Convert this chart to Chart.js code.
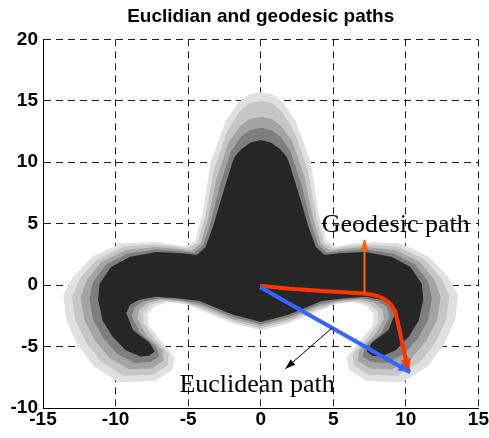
<!DOCTYPE html>
<html>
<head>
<meta charset="utf-8">
<script src="https://cdn.jsdelivr.net/npm/chart.js@4.4.0/dist/chart.umd.min.js"></script>
<style>
  body { margin: 0; background: #fff; }
</style>
</head>
<body>
<canvas id="pathsChart" width="489" height="438"></canvas>
<script>
const xTicks = [-15, -10, -5, 0, 5, 10, 15];
const yTicks = [-10, -5, 0, 5, 10, 15, 20];

// outline of the shape, outermost light band down to the dark core
const outerBand = [
    [0,15.7],[0.8,15.5],[1.5,14.9],[2.4,13.4],[3.45,10.0],[4.0,5.8],[4.5,3.6],[5.2,3.15],[6.0,3.3],[7.3,3.5],[9.6,3.4],
    [11.6,2.3],[12.9,0.7],[13.6,-0.8],[13.4,-2.8],[12.6,-4.9],[11.5,-6.6],[9.8,-7.9],[7.3,-7.8],[6.1,-6.9],[5.9,-5.9],
    [6.9,-4.5],[7.7,-3.3],[7.8,-2.4],[7.3,-1.7],[6.4,-1.4],[5.1,-1.55],[3.8,-2.2],[1.95,-3.1],[0,-3.7],
    [-1.95,-3.1],[-3.8,-2.2],[-5.1,-1.55],[-6.4,-1.4],[-7.3,-1.7],[-7.8,-2.4],[-7.7,-3.3],[-6.9,-4.5],[-5.9,-5.9],[-6.1,-6.9],
    [-7.3,-7.8],[-9.8,-7.9],[-11.5,-6.6],[-12.6,-4.9],[-13.4,-2.8],[-13.6,-0.8],[-12.9,0.7],[-11.6,2.3],[-9.6,3.4],[-7.3,3.5],
    [-6.0,3.3],[-5.2,3.15],[-4.5,3.6],[-4.0,5.8],[-3.45,10.0],[-2.4,13.4],[-1.5,14.9],[-0.8,15.5]
];
const lightBand = [
    [0,15.0],[0.8,14.8],[1.45,14.1],[2.29,12.55],[3.24,9.38],[3.83,5.53],[4.33,3.48],[5.0,2.98],[5.85,3.13],[7.28,3.3],[9.45,3.13],
    [11.28,2.1],[12.45,0.55],[13.0,-0.9],[12.78,-2.81],[12.0,-4.73],[10.95,-6.28],[9.43,-7.38],[7.4,-7.29],[6.4,-6.53],[6.34,-5.6],
    [7.38,-4.29],[8.09,-3.05],[8.1,-2.2],[7.56,-1.58],[6.6,-1.29],[5.28,-1.43],[3.9,-1.98],[1.95,-2.93],[0,-3.53],
    [-1.95,-2.93],[-3.9,-1.98],[-5.28,-1.43],[-6.6,-1.29],[-7.56,-1.58],[-8.1,-2.2],[-8.09,-3.05],[-7.38,-4.29],[-6.34,-5.6],[-6.4,-6.53],
    [-7.4,-7.29],[-9.43,-7.38],[-10.95,-6.28],[-12.0,-4.73],[-12.78,-2.81],[-13.0,-0.9],[-12.45,0.55],[-11.28,2.1],[-9.45,3.13],[-7.28,3.3],
    [-5.85,3.13],[-5.0,2.98],[-4.33,3.48],[-3.83,5.53],[-3.24,9.38],[-2.29,12.55],[-1.45,14.1],[-0.8,14.8]
];
const midBand = [
    [0,13.7],[0.8,13.5],[1.4,12.95],[2.18,11.7],[3.03,8.75],[3.65,5.25],[4.15,3.35],[4.8,2.8],[5.7,2.95],[7.25,3.1],[9.3,2.85],
    [10.95,1.9],[12.0,0.4],[12.4,-1.0],[12.15,-2.83],[11.4,-4.55],[10.4,-5.95],[9.05,-6.85],[7.5,-6.78],[6.7,-6.15],[6.78,-5.3],
    [7.85,-4.08],[8.48,-2.8],[8.4,-2.0],[7.83,-1.45],[6.8,-1.18],[5.45,-1.31],[4.0,-1.75],[1.95,-2.75],[0,-3.35],
    [-1.95,-2.75],[-4.0,-1.75],[-5.45,-1.31],[-6.8,-1.18],[-7.83,-1.45],[-8.4,-2.0],[-8.48,-2.8],[-7.85,-4.08],[-6.78,-5.3],[-6.7,-6.15],
    [-7.5,-6.78],[-9.05,-6.85],[-10.4,-5.95],[-11.4,-4.55],[-12.15,-2.83],[-12.4,-1.0],[-12.0,0.4],[-10.95,1.9],[-9.3,2.85],[-7.25,3.1],
    [-5.7,2.95],[-4.8,2.8],[-4.15,3.35],[-3.65,5.25],[-3.03,8.75],[-2.18,11.7],[-1.4,12.95],[-0.8,13.5]
];
const darkBand = [
    [0,12.8],[0.75,12.6],[1.35,12.1],[2.06,10.85],[2.81,8.13],[3.48,4.98],[3.98,3.23],[4.6,2.63],[5.55,2.78],[7.23,2.9],[9.15,2.58],
    [10.63,1.7],[11.55,0.25],[11.8,-1.1],[11.53,-2.84],[10.8,-4.38],[9.85,-5.63],[8.68,-6.33],[7.6,-6.26],[7.0,-5.78],[7.22,-5.0],
    [8.33,-3.87],[8.87,-2.55],[8.7,-1.8],[8.09,-1.33],[7.0,-1.06],[5.63,-1.19],[4.1,-1.53],[1.95,-2.58],[0,-3.18],
    [-1.95,-2.58],[-4.1,-1.53],[-5.63,-1.19],[-7.0,-1.06],[-8.09,-1.33],[-8.7,-1.8],[-8.87,-2.55],[-8.33,-3.87],[-7.22,-5.0],[-7.0,-5.78],
    [-7.6,-6.26],[-8.68,-6.33],[-9.85,-5.63],[-10.8,-4.38],[-11.55,-2.84],[-11.8,-1.1],[-11.55,0.25],[-10.63,1.7],[-9.15,2.58],[-7.23,2.9],
    [-5.55,2.78],[-4.6,2.63],[-3.98,3.23],[-3.48,4.98],[-2.81,8.13],[-2.06,10.85],[-1.35,12.1],[-0.75,12.6]
];
const coreShape = [
    [0,11.8],[0.7,11.6],[1.3,11.1],[1.75,10.5],[1.95,10.0],[2.6,7.5],[3.3,4.7],[3.8,3.1],[4.4,2.45],[5.4,2.6],[7.2,2.7],[9.0,2.3],
    [10.3,1.5],[11.1,0.1],[11.2,-1.2],[10.9,-2.85],[10.2,-4.2],[9.3,-5.3],[8.3,-5.8],[7.7,-5.75],[7.3,-5.4],[7.66,-4.7],
    [8.8,-3.66],[9.26,-2.3],[9.0,-1.6],[8.35,-1.2],[7.2,-0.95],[5.8,-1.07],[4.2,-1.3],[1.95,-2.4],[0,-3.0],
    [-1.95,-2.4],[-4.2,-1.3],[-5.8,-1.07],[-7.2,-0.95],[-8.35,-1.2],[-9.0,-1.6],[-9.26,-2.3],[-8.8,-3.66],[-7.66,-4.7],[-7.3,-5.4],
    [-7.7,-5.75],[-8.3,-5.8],[-9.3,-5.3],[-10.2,-4.2],[-10.9,-2.85],[-11.2,-1.2],[-11.1,0.1],[-10.3,1.5],[-9.0,2.3],[-7.2,2.7],
    [-5.4,2.6],[-4.4,2.45],[-3.8,3.1],[-3.3,4.7],[-2.6,7.5],[-1.95,10.0],[-1.75,10.5],[-1.3,11.1],[-0.7,11.6]
];

// paths
const geodesicPath = [
    [-0.05,-0.05],[2.0,-0.3],[4.0,-0.46],[5.5,-0.57],[7.0,-0.68],[7.7,-0.78],[8.2,-0.95],[8.6,-1.2],
    [8.95,-1.55],[9.25,-2.1],[9.4,-2.8],[9.6,-3.9],[9.95,-5.8],[10.2,-7.05]
];
const euclideanPath = [[-0.05,-0.15],[10.3,-7.1]];
const geodesicPointer = [[7.15,-0.65],[7.15,3.7]];
const euclideanPointer = [[4.9,-3.5],[1.7,-6.8]];

const labelTexts = ['Geodesic path', 'Euclidean path'];
const labelAnchors = [[4.2, 4.3], [-5.6, -8.7]];

function toPoints(arr) {
    return arr.map(p => ({x: p[0], y: p[1]}));
}

function shapeDataset(arr, color, order) {
    return {
        data: toPoints(arr),
        showLine: false,
        pointRadius: 0,
        polyColor: color,
        order: order
    };
}

function pathDataset(arr, color, width, order, head) {
    return {
        data: toPoints(arr),
        showLine: true,
        borderColor: color,
        borderWidth: width,
        borderJoinStyle: 'round',
        pointRadius: 0,
        fill: false,
        tension: 0,
        order: order,
        arrowHead: head
    };
}

// fills each outline before its dataset is drawn
const polygonPlugin = {
    id: 'polygonFill',
    beforeDatasetDraw(chart, args) {
        const ds = chart.data.datasets[args.index];
        if (!ds.polyColor) return;
        const ctx = chart.ctx;
        const pts = args.meta.data;
        ctx.save();
        ctx.beginPath();
        pts.forEach((p, i) => {
            if (i === 0) ctx.moveTo(p.x, p.y);
            else ctx.lineTo(p.x, p.y);
        });
        ctx.closePath();
        ctx.fillStyle = ds.polyColor;
        ctx.fill();
        ctx.restore();
    }
};

const arrowPlugin = {
    id: 'arrowHeads',
    afterDatasetDraw(chart, args) {
        const ds = chart.data.datasets[args.index];
        if (!ds.arrowHead) return;
        const pts = args.meta.data;
        const tip = pts[pts.length - 1];
        const prev = pts[pts.length - 2];
        const a = Math.atan2(tip.y - prev.y, tip.x - prev.x);
        const len = ds.arrowHead.length;
        const half = ds.arrowHead.width / 2;
        const bx = tip.x - len * Math.cos(a);
        const by = tip.y - len * Math.sin(a);
        const ctx = chart.ctx;
        ctx.save();
        ctx.beginPath();
        ctx.moveTo(tip.x, tip.y);
        ctx.lineTo(bx + half * Math.sin(a), by - half * Math.cos(a));
        ctx.lineTo(bx - half * Math.sin(a), by + half * Math.cos(a));
        ctx.closePath();
        ctx.fillStyle = ds.borderColor;
        ctx.fill();
        ctx.restore();
    }
};

const labelPlugin = {
    id: 'pathLabels',
    afterDatasetsDraw(chart) {
        const ctx = chart.ctx;
        const xs = chart.scales.x;
        const ys = chart.scales.y;
        ctx.save();
        ctx.font = '26px "Liberation Serif", "Times New Roman", serif';
        ctx.fillStyle = '#000';
        ctx.textAlign = 'left';
        ctx.textBaseline = 'alphabetic';
        labelTexts.forEach((t, i) => {
            ctx.fillText(t, xs.getPixelForValue(labelAnchors[i][0]), ys.getPixelForValue(labelAnchors[i][1]));
        });
        ctx.restore();
    }
};

const tickFont = {family: '"Liberation Sans", Arial, sans-serif', size: 19, weight: 'bold'};

new Chart(document.getElementById('pathsChart').getContext('2d'), {
    type: 'scatter',
    data: {
        datasets: [
            shapeDataset(outerBand, '#e0e0e0', 20),
            shapeDataset(lightBand, '#c6c6c6', 19),
            shapeDataset(midBand, '#a4a4a4', 18),
            shapeDataset(darkBand, '#7e7e7e', 17),
            shapeDataset(coreShape, '#262626', 16),
            pathDataset(euclideanPath, '#3366ff', 4, 3, {length: 12, width: 9}),
            pathDataset(geodesicPath, '#ff3300', 4, 4, {length: 13, width: 10}),
            pathDataset(geodesicPointer, '#ff6600', 2, 2, {length: 10, width: 8}),
            pathDataset(euclideanPointer, '#000000', 1, 1, {length: 10, width: 7})
        ]
    },
    options: {
        responsive: false,
        animation: false,
        devicePixelRatio: 1,
        layout: {padding: {left: 0, right: 8, top: 0, bottom: 0}},
        plugins: {
            legend: {display: false},
            tooltip: {enabled: false},
            title: {
                display: true,
                text: 'Euclidian and geodesic paths',
                color: '#000',
                fullSize: false,
                font: {family: '"Liberation Sans", Arial, sans-serif', size: 19, weight: 'bold'},
                padding: {top: 5, bottom: 11.5}
            }
        },
        scales: {
            x: {
                type: 'linear',
                min: -15,
                max: 15,
                afterBuildTicks: s => { s.ticks = xTicks.map(v => ({value: v})); },
                afterFit: s => { s.height = 30; },
                ticks: {color: '#000', font: tickFont, padding: 0, maxRotation: 0},
                grid: {color: '#222', lineWidth: 1, drawTicks: false},
                border: {display: true, color: '#000', width: 1, dash: [7, 5]}
            },
            y: {
                type: 'linear',
                min: -10,
                max: 20,
                afterBuildTicks: s => { s.ticks = yTicks.map(v => ({value: v})); },
                afterFit: s => { s.width = 43; },
                ticks: {color: '#000', font: tickFont, padding: 5},
                grid: {color: '#222', lineWidth: 1, drawTicks: false},
                border: {display: true, color: '#000', width: 1, dash: [7, 5]}
            }
        }
    },
    plugins: [polygonPlugin, arrowPlugin, labelPlugin]
});
</script>
</body>
</html>
